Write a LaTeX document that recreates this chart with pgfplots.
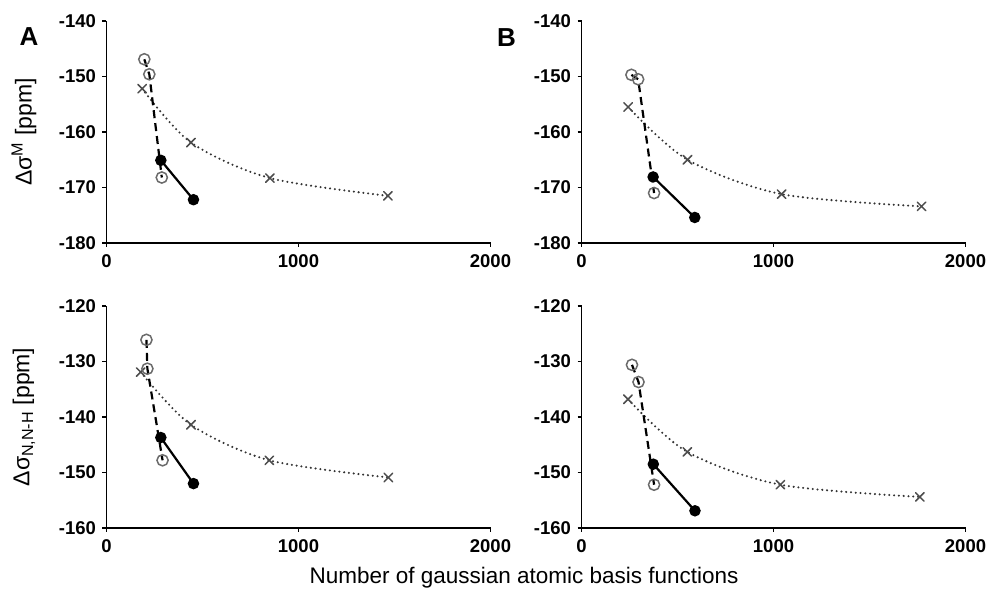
\documentclass[border=0pt]{standalone}
\usepackage{fontspec}
\setmainfont{Liberation Sans}
\usepackage{pgfplots}
\pgfplotsset{compat=1.18}
\definecolor{crossgray}{gray}{0.3}
\definecolor{circgray}{gray}{0.42}
\definecolor{dotgray}{gray}{0.2}
\pgfplotsset{
  panel/.style={
    scale only axis, width=384pt, height=222pt,
    axis lines=left, axis line style={-, line width=1.8pt, black},
    xmin=0, xmax=2000,
    xtick={0,1000,2000}, xticklabels={0,1000,2000},
    tick align=outside, major tick length=4pt,
    tick style={line width=1.5pt, black},
    ticklabel style={font=\fontsize{18.5}{18.5}\selectfont\bfseries},
    xticklabel style={yshift=-4pt},
    yticklabel style={xshift=-3pt},
    clip=false,
    every axis y label/.style={at={(axis description cs:-0.215,0.5)}, rotate=90, anchor=center, font=\fontsize{23}{23}\selectfont},
  },
  crossline/.style={draw=dotgray, line width=2.3pt, line cap=round, dash pattern=on 0pt off 4.8pt, smooth, tension=0.5,
    mark=x, mark size=6pt, mark options={draw=crossgray, line width=1.5pt, solid}},
  circline/.style={draw=black, line width=2.2pt, dash pattern=on 8pt off 5pt,
    mark=o, mark size=5.6pt, mark options={draw=circgray, line width=1.5pt, solid}},
  fillline/.style={draw=black, line width=2.2pt,
    mark=*, mark size=4.6pt, mark options={draw=black, fill=black, solid}},
}
\begin{document}
\begin{tikzpicture}
\useasboundingbox (0,0) rectangle (988pt,599pt);
% Panel A
\begin{axis}[panel, at={(106.5pt,356pt)}, anchor=south west,
  ymin=-180, ymax=-140, ytick={-180,-170,-160,-150,-140},
  yticklabels={-180,-170,-160,-150,-140},
  ylabel={Δσ\textsuperscript{M} [ppm]}]
\addplot[crossline] coordinates {(186,-152.2) (440,-161.9) (851,-168.3) (1466,-171.5)};
\addplot[circline] coordinates {(197,-146.9) (223,-149.6) (288,-168.2)};
\addplot[fillline] coordinates {(283,-165.1) (453,-172.2)};
\end{axis}
% Panel B
\begin{axis}[panel, at={(581.5pt,356pt)}, anchor=south west,
  ymin=-180, ymax=-140, ytick={-180,-170,-160,-150,-140},
  yticklabels={-180,-170,-160,-150,-140}]
\addplot[crossline] coordinates {(243,-155.5) (552,-165.0) (1042,-171.2) (1771,-173.4)};
\addplot[circline] coordinates {(260,-149.7) (295,-150.5) (378,-171.0)};
\addplot[fillline] coordinates {(373,-168.1) (590,-175.4)};
\end{axis}
% Panel C
\begin{axis}[panel, at={(106.5pt,71pt)}, anchor=south west,
  ymin=-160, ymax=-120, ytick={-160,-150,-140,-130,-120},
  yticklabels={-160,-150,-140,-130,-120},
  ylabel={Δσ\textsubscript{N,N-H} [ppm]}]
\addplot[crossline] coordinates {(178,-131.9) (440,-141.4) (848,-147.8) (1468,-150.9)};
\addplot[circline] coordinates {(208,-126.1) (213,-131.3) (292,-147.8)};
\addplot[fillline] coordinates {(283,-143.7) (453,-152.0)};
\end{axis}
% Panel D
\begin{axis}[panel, at={(581.5pt,71pt)}, anchor=south west,
  ymin=-160, ymax=-120, ytick={-160,-150,-140,-130,-120},
  yticklabels={-160,-150,-140,-130,-120}]
\addplot[crossline] coordinates {(242,-136.8) (551,-146.3) (1036,-152.2) (1762,-154.4)};
\addplot[circline] coordinates {(263,-130.6) (297,-133.7) (378,-152.2)};
\addplot[fillline] coordinates {(374,-148.5) (591,-156.9)};
\end{axis}
\node[font=\fontsize{26}{26}\selectfont\bfseries] at (29pt,562pt) {A};
\node[font=\fontsize{26}{26}\selectfont\bfseries] at (506.5pt,561.5pt) {B};
\node[font=\fontsize{22.5}{22.5}\selectfont] at (524pt,21pt) {Number of gaussian atomic basis functions};
\end{tikzpicture}
\end{document}
